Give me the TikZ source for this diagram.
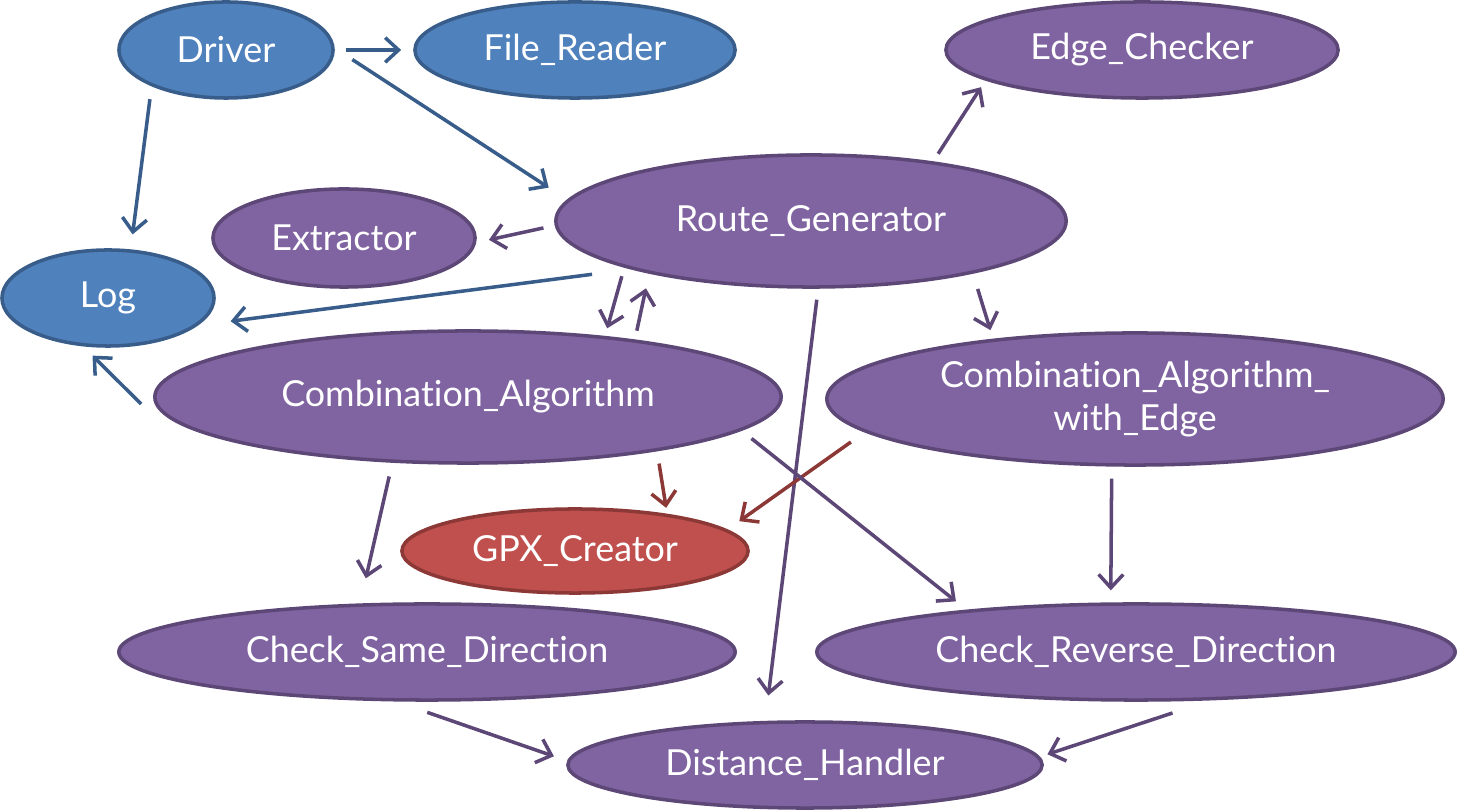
\documentclass[tikz,border=0pt]{standalone}
\usepackage{fontspec}
\setmainfont{Lato}[Ligatures=NoCommon]
\usetikzlibrary{shapes.geometric, arrows.meta}

\definecolor{bluefill}{HTML}{4F81BD}
\definecolor{blueline}{HTML}{385D8A}
\definecolor{purpfill}{HTML}{8064A2}
\definecolor{purpline}{HTML}{5C4776}
\definecolor{redfill}{HTML}{C0504D}
\definecolor{redline}{HTML}{8C3836}

\begin{document}
\begin{tikzpicture}[x=0.01cm, y=-0.01cm,
    cls/.style={ellipse, line width=1pt, inner sep=0pt, text=white, align=center,
        font=\fontsize{10.2pt}{12.4pt}\selectfont},
    bluecls/.style={cls, draw=blueline, fill=bluefill},
    purpcls/.style={cls, draw=purpline, fill=purpfill},
    redcls/.style={cls, draw=redline, fill=redfill},
    uses/.style={-{Straight Barb[length=3.8pt, width=7pt]}, line width=1pt},
    blueuse/.style={uses, draw=blueline},
    purpuse/.style={uses, draw=purpline},
    reduse/.style={uses, draw=redline}]
    \useasboundingbox (0,0) rectangle (1457,810);

    % Classes:
    \node[bluecls, minimum width=2.14cm, minimum height=0.96cm] (drv) at (226,50) {Driver};
    \node[bluecls, minimum width=3.20cm, minimum height=0.96cm] (frd) at (575,50) {File\_Reader};
    \node[purpcls, minimum width=3.92cm, minimum height=0.96cm] (edg) at (1142,50) {Edge\_Checker};
    \node[purpcls, minimum width=5.10cm, minimum height=1.32cm] (rg) at (811,221) {Route\_Generator};
    \node[purpcls, minimum width=2.62cm, minimum height=0.98cm] (ext) at (344,238) {Extractor};
    \node[bluecls, minimum width=2.12cm, minimum height=0.96cm] (log) at (108,298) {Log};
    \node[purpcls, minimum width=6.26cm, minimum height=1.32cm] (ca) at (468,397) {Combination\_Algorithm};
    \node[purpcls, minimum width=6.16cm, minimum height=1.32cm] (cae) at (1135,399) {Combination\_Algorithm\_\\with\_Edge};
    \node[redcls, minimum width=3.46cm, minimum height=0.84cm] (gpx) at (575,551) {GPX\_Creator};
    \node[purpcls, minimum width=6.16cm, minimum height=0.96cm] (csd) at (427,652) {Check\_Same\_Direction};
    \node[purpcls, minimum width=6.38cm, minimum height=0.96cm] (crd) at (1136,652) {Check\_Reverse\_Direction};
    \node[purpcls, minimum width=4.74cm, minimum height=0.86cm] (dh) at (805,765) {Distance\_Handler};

    % Calls:
    \draw[blueuse, shorten <=0.11cm, shorten >=0.12cm] (drv.east) -- (frd.west);
    \draw[blueuse, shorten <=0.21cm, shorten >=0.22cm] (drv.1) -- (rg.175);
    \draw[blueuse, shorten <=0.13cm, shorten >=0.15cm] (drv.206) -- (log.65);
    \draw[blueuse, shorten <=0.39cm, shorten >=0.33cm] (rg.195) -- (log.-17);
    \draw[blueuse, shorten >=0.13cm] ([shift={(-12,7)}]ca.west) -- (log.-117);
    \draw[purpuse, shorten <=0.115cm, shorten >=0.13cm] (rg.181) -- (ext.-2);
    \draw[purpuse, shorten <=0.09cm, shorten >=0.08cm] (rg.26) -- (edg.191);
    \draw[purpuse, shorten <=0.09cm, shorten >=0.08cm] (rg.194.5) -- (ca.24);
    \draw[purpuse, shorten <=0.09cm, shorten >=0.15cm] (ca.19) -- (rg.198);
    \draw[purpuse, shorten <=0.16cm, shorten >=0.09cm] (rg.-18) -- (cae.157);
    \draw[purpuse, shorten <=0.11cm, shorten >=0.255cm] (rg.-84) -- (dh.132);
    \draw[reduse, shorten <=0.125cm, shorten >=0.06cm] (ca.-16.5) -- (gpx.22);
    \draw[reduse, shorten <=0.17cm, shorten >=0.145cm] (cae.187) -- (gpx.8);
    \draw[purpuse, shorten <=0.127cm, shorten >=0.134cm] (ca.-7) -- (crd.166);
    \draw[purpuse, shorten <=0.14cm, shorten >=0.257cm] (ca.221) -- (csd.144);
    \draw[purpuse, shorten <=0.12cm, shorten >=0.12cm] (cae.-109) -- (crd.117);
    \draw[purpuse, shorten <=0.33cm, shorten >=0.14cm] (csd.-122) -- (dh.179);
    \draw[purpuse, shorten <=0.40cm, shorten >=0.08cm] (crd.-33) -- (dh.2);
\end{tikzpicture}
\end{document}
